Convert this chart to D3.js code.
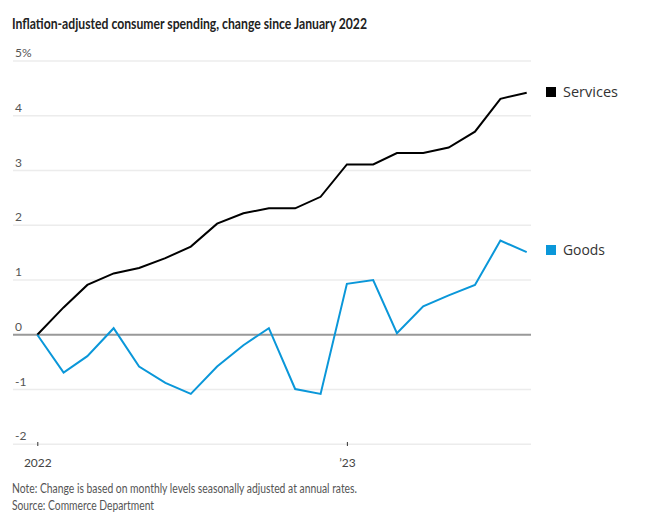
<!DOCTYPE html>
<html>
<head>
<meta charset="utf-8">
<script src="https://cdn.jsdelivr.net/npm/d3@7"></script>
<style>
  html, body { margin: 0; padding: 0; background: #fff; }
  svg { display: block; }
</style>
</head>
<body>
<svg id="chart" width="645" height="526"></svg>
<script>
const months = d3.range(20).map(i => new Date(2022, i, 1));
const services = [0, 0.5, 0.91, 1.12, 1.22, 1.4, 1.61, 2.03, 2.22, 2.31, 2.31, 2.52, 3.11, 3.11, 3.32, 3.32, 3.42, 3.71, 4.31, 4.42];
const goods = [0, -0.69, -0.39, 0.12, -0.58, -0.88, -1.08, -0.58, -0.19, 0.12, -0.99, -1.08, 0.93, 1.0, 0.03, 0.52, 0.72, 0.91, 1.72, 1.51];
const yTicks = [-2, -1, 0, 1, 2, 3, 4, 5];
const yTickLabels = ["-2", "-1", "0", "1", "2", "3", "4", "5%"];
const xTicks = [new Date(2022, 0, 1), new Date(2023, 0, 1)];
const xTickLabels = ["2022", "\u201923"];
const seriesNames = ["Services", "Goods"];
const seriesColors = ["#000000", "#0a97d9"];

const svg = d3.select("#chart");
const font = "'Lato', 'Liberation Sans', sans-serif";
const font2 = "'Open Sans', 'Liberation Sans', sans-serif";

const x = d3.scaleTime().domain([months[0], months[19]]).range([37.3, 526.7]);
const y = d3.scaleLinear().domain([-2, 5]).range([444.3, 61]);

// title
svg.append("text").attr("x", 12).attr("y", 28.5)
  .attr("font-family", font).attr("font-weight", "bold").attr("font-size", 16)
  .attr("fill", "#222")
  .attr("textLength", 355).attr("lengthAdjust", "spacingAndGlyphs")
  .text("Inflation-adjusted consumer spending, change since January 2022");

// gridlines
const grid = svg.append("g");
grid.selectAll("line").data(yTicks).join("line")
  .attr("x1", 13).attr("x2", 531)
  .attr("y1", d => y(d)).attr("y2", d => y(d))
  .attr("stroke", d => d === 0 ? "#999" : "#ececec")
  .attr("stroke-width", d => d === 0 ? 2 : 1.5);
grid.selectAll("text").data(yTicks).join("text")
  .attr("x", 15).attr("y", d => y(d) - 4)
  .attr("font-family", font).attr("font-size", 12).attr("fill", "#555")
  .text((d, i) => yTickLabels[i]);

// x axis
const xAxis = d3.axisBottom(x).tickValues(xTicks).tickSize(4)
  .tickFormat((d, i) => xTickLabels[i]);
const xg = svg.append("g").attr("transform", "translate(0,446)").call(xAxis);
xg.select(".domain").remove();
xg.selectAll(".tick line").attr("stroke", "#333").attr("transform", "translate(0,-4)");
xg.selectAll(".tick text").attr("font-family", font).attr("font-size", 12)
  .attr("fill", "#444").attr("dy", "0.71em").attr("y", 12);

// lines
const line = d3.line().x((d, i) => x(months[i])).y(d => y(d));
[services, goods].forEach((s, k) => {
  svg.append("path").datum(s).attr("d", line)
    .attr("fill", "none").attr("stroke", seriesColors[k])
    .attr("stroke-width", 2).attr("stroke-linejoin", "miter");
});

// legend
const legendPos = [92, 250];
const legendLen = [55, 42];
seriesNames.forEach((n, k) => {
  svg.append("rect").attr("x", 546).attr("y", legendPos[k] - 5).attr("width", 10).attr("height", 10)
    .attr("fill", seriesColors[k]);
  svg.append("text").attr("x", 563).attr("y", legendPos[k] + 5)
    .attr("font-family", font2).attr("font-size", 14.5).attr("fill", "#333")
    .attr("textLength", legendLen[k]).attr("lengthAdjust", "spacingAndGlyphs").text(n);
});

// notes
svg.append("text").attr("x", 12).attr("y", 492.5)
  .attr("font-family", font).attr("font-size", 13.5).attr("fill", "#555")
  .attr("textLength", 345).attr("lengthAdjust", "spacingAndGlyphs")
  .text("Note: Change is based on monthly levels seasonally adjusted at annual rates.");
svg.append("text").attr("x", 12).attr("y", 509.5)
  .attr("font-family", font).attr("font-size", 13.5).attr("fill", "#555")
  .attr("textLength", 142).attr("lengthAdjust", "spacingAndGlyphs")
  .text("Source: Commerce Department");
</script>
</body>
</html>
